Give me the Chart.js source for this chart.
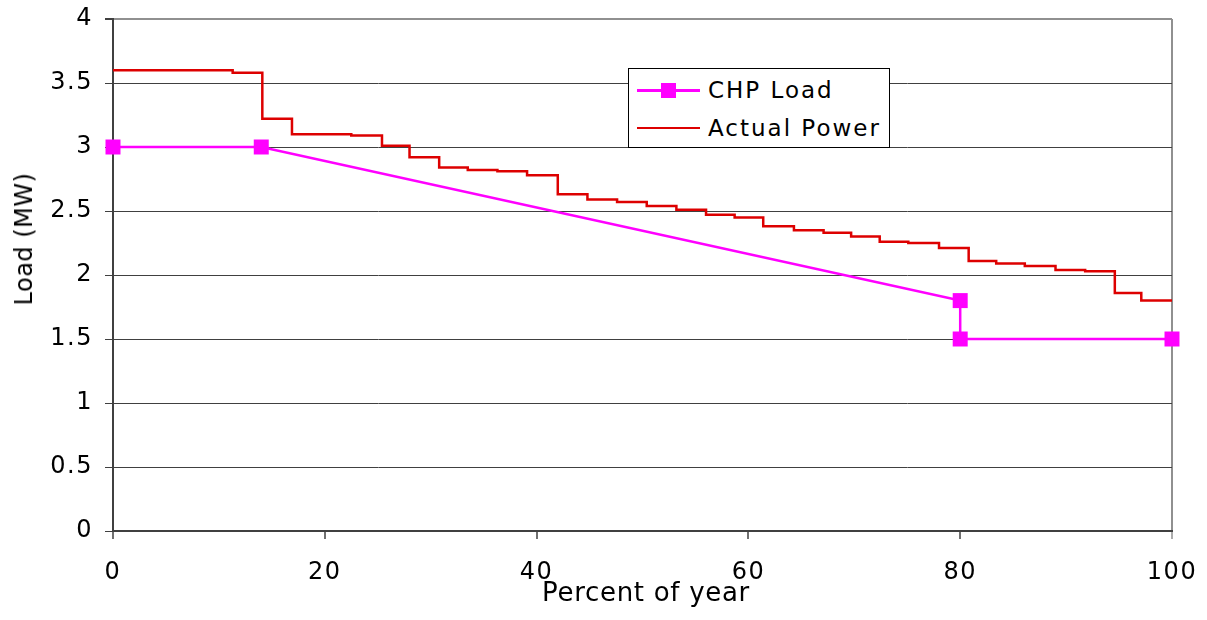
<!DOCTYPE html>
<html>
<head>
<meta charset="utf-8">
<script src="https://cdn.jsdelivr.net/npm/chart.js@4.4.0/dist/chart.umd.min.js"></script>
<style>
  body { margin: 0; background: #fff; }
  #wrap { position: relative; width: 1207px; height: 620px; font-family: "DejaVu Sans", Verdana, sans-serif; color: #000; }
  #legend {
    position: absolute; left: 628px; top: 68px; width: 260px; height: 78px;
    border: 1px solid #000; background: #fff; font-size: 23px; letter-spacing: 2px;
  }
  .item { position: absolute; left: 8px; height: 30px; width: 252px; }
  .item .ln { position: absolute; left: 0; top: 14px; width: 63px; height: 3px; }
  .item .mk { position: absolute; left: 24px; top: 8px; width: 15px; height: 15px; background: #ff00ff; }
  .item .tx { position: absolute; left: 71px; top: 0px; line-height: 30px; white-space: nowrap; }
  #ytitle {
    position: absolute; left: 24px; top: 239px; font-size: 24px; line-height: 28px; letter-spacing: 0.5px;
    white-space: nowrap; transform: translate(-50%, -50%) rotate(-90deg);
  }
  #xtitle {
    position: absolute; left: 646px; top: 577px; font-size: 26px; line-height: 30px; letter-spacing: 0.7px;
    white-space: nowrap; transform: translateX(-50%);
  }
</style>
</head>
<body>
<div id="wrap">
  <canvas id="canvas" width="1207" height="620"></canvas>
  <div id="ytitle">Load (MW)</div>
  <div id="xtitle">Percent of year</div>
  <div id="legend">
    <div class="item" style="top:6px">
      <div class="ln" style="background:#ff00ff"></div><div class="mk"></div><span class="tx">CHP Load</span>
    </div>
    <div class="item" style="top:44px">
      <div class="ln" style="background:#dd0000;height:2px"></div><span class="tx">Actual Power</span>
    </div>
  </div>
</div>
<script>
// percent of year vs load (MW)
var chpX = [0, 14, 80, 80, 100];
var chpY = [3, 3, 1.8, 1.5, 1.5];

var powerX = [0, 11.3, 14.1, 16.9, 22.5, 25.4, 28.0, 30.8, 33.5, 36.3, 39.1, 42.0, 44.8, 47.6, 50.4, 53.2,
              56.0, 58.7, 61.4, 64.3, 67.1, 69.7, 72.4, 75.1, 78.0, 80.8, 83.4, 86.1, 89.0, 91.8, 94.6, 97.1, 100];
var powerY = [3.60, 3.58, 3.22, 3.10, 3.09, 3.01, 2.92, 2.84, 2.82, 2.81, 2.78, 2.63, 2.59, 2.57, 2.54, 2.51,
              2.47, 2.45, 2.38, 2.35, 2.33, 2.30, 2.26, 2.25, 2.21, 2.11, 2.09, 2.07, 2.04, 2.03, 1.86, 1.80, 1.80];

var chpData = [];
for (let i = 0; i < chpX.length; i++) {
  chpData.push({ x: chpX[i], y: chpY[i] });
}
var powerData = [];
for (let i = 0; i < powerX.length; i++) {
  powerData.push({ x: powerX[i], y: powerY[i] });
}

Chart.defaults.font.family = '"DejaVu Sans", Verdana, sans-serif';
Chart.defaults.font.size = 24;
Chart.defaults.color = '#000';

// the reference labels are spaced a bit wider than the plain font
const spacing = {
  id: 'spacing',
  beforeLayout: function (chart) { chart.ctx.letterSpacing = '1.5px'; },
  beforeDraw: function (chart) { chart.ctx.letterSpacing = '1.5px'; }
};

const ctx = document.getElementById('canvas');

new Chart(ctx, {
  type: 'line',
  data: {
    datasets: [{
      label: 'CHP Load',
      data: chpData,
      borderColor: '#ff00ff',
      backgroundColor: '#ff00ff',
      borderWidth: 2.5,
      pointStyle: 'rect',
      pointRadius: 10.6,
      pointBorderWidth: 0,
      pointHoverRadius: 10.6,
      clip: false
    }, {
      label: 'Actual Power',
      data: powerData,
      borderColor: '#dd0000',
      borderWidth: 2.5,
      stepped: true,
      pointRadius: 0,
      clip: false
    }]
  },
  options: {
    responsive: false,
    animation: false,
    layout: { padding: { top: 19, right: 35, left: 0, bottom: 0 } },
    plugins: {
      legend: { display: false },
      tooltip: { enabled: false }
    },
    scales: {
      x: {
        type: 'linear',
        min: 0,
        max: 100,
        ticks: { stepSize: 20, padding: 19, maxRotation: 0 },
        grid: {
          color: function (c) { return c.tick && c.tick.value === 100 ? '#909090' : 'rgba(0,0,0,0)'; },
          lineWidth: 2,
          tickLength: 8,
          tickColor: function (c) { return c.tick && c.tick.value === 100 ? '#909090' : '#404040'; },
          tickWidth: 1.5
        },
        border: { color: '#404040', width: 2 },
        afterFit: function (scale) {
          scale.height = 89;
          scale.paddingLeft = 0;
          scale.paddingRight = 0;
        }
      },
      y: {
        min: 0,
        max: 4,
        ticks: {
          stepSize: 0.5,
          padding: 12,
          callback: function (v) { return String(v); }
        },
        grid: {
          color: function (c) { return c.tick && c.tick.value === 4 ? '#909090' : '#404040'; },
          lineWidth: function (c) { return c.tick && c.tick.value === 4 ? 2 : 1; },
          tickLength: 8,
          tickColor: '#404040'
        },
        border: { color: '#404040', width: 2 },
        afterFit: function (scale) {
          scale.width = 113;
          scale.paddingTop = 0;
          scale.paddingBottom = 0;
        }
      }
    }
  },
  plugins: [spacing]
});
</script>
</body>
</html>
